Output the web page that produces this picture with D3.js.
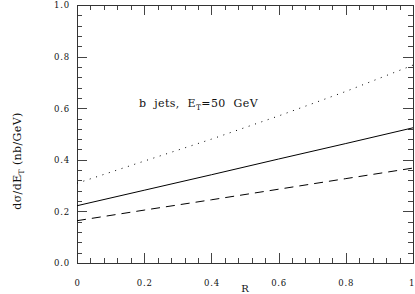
<!DOCTYPE html>
<html>
<head>
<meta charset="utf-8">
<script src="https://cdn.jsdelivr.net/npm/d3@7"></script>
<style>
	html, body { margin: 0; padding: 0; background: #fff; }
	svg { display: block; }
	svg text { font-family: "DejaVu Serif", "Liberation Serif", serif !important; fill: #111; }
</style>
</head>
<body>
<svg id="chart"></svg>
<script>
const width = 415;
const height = 294;

const rVals = [0, 0.2, 0.4, 0.6, 0.8, 1.0];
// d sigma / dE_T (nb/GeV)
const solidVals = [0.222, 0.282, 0.342, 0.403, 0.463, 0.524];
const dottedVals = [0.309, 0.395, 0.480, 0.570, 0.665, 0.767];
const dashedVals = [0.164, 0.205, 0.245, 0.286, 0.327, 0.368];

const xTicks = [0, 0.2, 0.4, 0.6, 0.8, 1];
const yTicks = [0, 0.2, 0.4, 0.6, 0.8, 1.0];

const series = [
	{ name: 'solid', values: solidVals, dash: null },
	{ name: 'dotted', values: dottedVals, dash: '1,5.7' },
	{ name: 'dashed', values: dashedVals, dash: '9,6' }
];

const margin = { left: 77, right: 2, top: 5, bottom: 31 };

const svg = d3.select('#chart')
	.attr('width', width)
	.attr('height', height);

const x = d3.scaleLinear().domain([0, 1]).range([margin.left, width - margin.right]);
const y = d3.scaleLinear().domain([0, 1]).range([height - margin.bottom, margin.top]);

const minor = d3.range(0, 1.0001, 0.04);

///////// axes (ticks point inward on all four sides)

function addAxis(axis, tx, ty) {
	const g = svg.append('g')
		.attr('transform', `translate(${tx},${ty})`)
		.style('shape-rendering', 'crispEdges')
		.call(axis);
	g.select('.domain').remove();
	g.attr('font-family', null);
	g.selectAll('line').attr('stroke', '#444');
	return g;
}

const plotW = x.range()[1] - x.range()[0];
const plotH = y.range()[0] - y.range()[1];

// minor
addAxis(d3.axisBottom(x).tickValues(minor).tickSize(-5).tickFormat(''), 0, y(0));
addAxis(d3.axisTop(x).tickValues(minor).tickSize(-5).tickFormat(''), 0, y(1));
addAxis(d3.axisLeft(y).tickValues(minor).tickSize(-5).tickFormat(''), x(0), 0);
addAxis(d3.axisRight(y).tickValues(minor).tickSize(-5).tickFormat(''), x(1), 0);

// major
const xb = addAxis(d3.axisBottom(x).tickValues(xTicks).tickSize(-10)
	.tickFormat(d => (d === 0 || d === 1) ? d : d.toFixed(1)), 0, y(0));
addAxis(d3.axisTop(x).tickValues(xTicks).tickSize(-10).tickFormat(''), 0, y(1));
const yl = addAxis(d3.axisLeft(y).tickValues(yTicks).tickSize(-10)
	.tickFormat(d => d.toFixed(1)), x(0), 0);
addAxis(d3.axisRight(y).tickValues(yTicks).tickSize(-10).tickFormat(''), x(1), 0);

for (let g of [xb, yl]) {
	g.attr('font-size', null);
	g.selectAll('text')
		.style('font-family', '"DejaVu Serif", serif')
		.style('font-size', '8.5px')
		.attr('letter-spacing', 0.8)
		.attr('fill', '#222');
}
xb.selectAll('text').attr('y', 285.5 - y(0)).attr('dy', 0)
	.attr('dx', d => d === 1 ? -1.5 : 0);
yl.selectAll('text').attr('x', 70 - x(0)).attr('dy', '0.35em');

// frame
svg.append('rect')
	.attr('x', x(0))
	.attr('y', y(1))
	.attr('width', plotW)
	.attr('height', plotH)
	.attr('fill', 'none')
	.attr('stroke', '#333')
	.attr('stroke-width', 1)
	.style('shape-rendering', 'crispEdges');

///////// curves

const line = d3.line()
	.x((d, i) => x(rVals[i]))
	.y(d => y(d));

svg.append('g')
	.selectAll('path')
	.data(series)
	.join('path')
	.attr('d', d => line(d.values))
	.attr('fill', 'none')
	.attr('stroke', '#000')
	.attr('stroke-width', 1)
	.attr('stroke-dasharray', d => d.dash);

///////// labels

// annotation
const note = svg.append('text')
	.attr('x', 139)
	.attr('y', 107)
	.attr('font-size', 11)
	.attr('letter-spacing', 0.4)
	.style('white-space', 'pre');
note.append('tspan').text('b  jets,  E');
note.append('tspan').attr('font-size', 7.5).attr('dy', 2.5).text('T');
note.append('tspan').attr('dy', -2.5).text('=50  GeV');

// x title
svg.append('text')
	.attr('x', (x(0) + x(1)) / 2)
	.attr('y', 292)
	.attr('text-anchor', 'middle')
	.attr('font-size', 10)
	.text('R');

// y title
const yt = svg.append('text')
	.attr('transform', 'translate(21,161) rotate(-90)')
	.attr('text-anchor', 'middle')
	.attr('font-size', 11)
	.attr('letter-spacing', 0.4);
yt.append('tspan').text('dσ/dE');
yt.append('tspan').attr('font-size', 7.5).attr('dy', 2.5).text('T');
yt.append('tspan').attr('dy', -2.5).text(' (nb/GeV)');
</script>
</body>
</html>
